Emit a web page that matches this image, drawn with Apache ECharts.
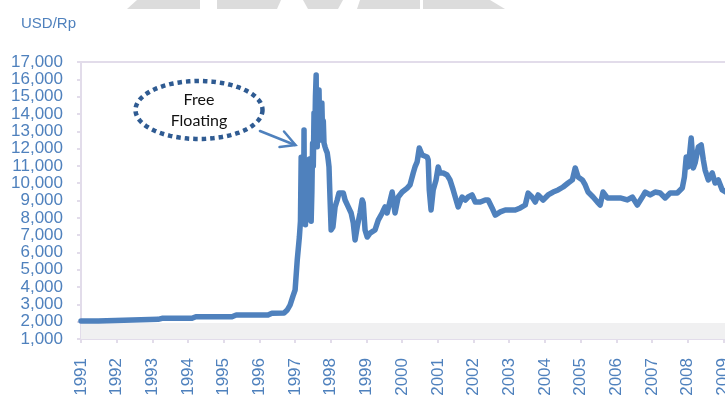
<!DOCTYPE html>
<html>
<head>
<meta charset="utf-8">
<script src="https://cdn.jsdelivr.net/npm/echarts@6/dist/echarts.min.js"></script>
<style>
  html, body { margin: 0; padding: 0; background: #ffffff; }
  #chart { width: 725px; height: 397px; }
</style>
</head>
<body>
<div id="chart"></div>
<script>
// Rupiah per US dollar, 1991 - early 2009 (time as decimal year)
const yearTicks = ['1991', '1992', '1993', '1994', '1995', '1996', '1997', '1998', '1999',
  '2000', '2001', '2002', '2003', '2004', '2005', '2006', '2007', '2008', '2009'];

const dates = [
  1991.00, 1991.48, 1991.53, 1993.16, 1993.27, 1994.11, 1994.22, 1995.23, 1995.35, 1996.24,
  1996.35, 1996.69, 1996.78, 1996.86, 1996.94,
  // 1997 crisis
  1997.00, 1997.06, 1997.12, 1997.15, 1997.17, 1997.18, 1997.20, 1997.21, 1997.23, 1997.24,
  1997.25, 1997.26, 1997.28, 1997.29, 1997.31, 1997.32, 1997.34, 1997.35, 1997.37, 1997.38,
  1997.40, 1997.41, 1997.43, 1997.45, 1997.47, 1997.49, 1997.51, 1997.53, 1997.55, 1997.57,
  1997.59, 1997.60, 1997.62, 1997.64, 1997.66, 1997.67, 1997.69, 1997.71, 1997.73, 1997.75,
  1997.77, 1997.79, 1997.81, 1997.84, 1997.87, 1997.90, 1997.93, 1997.95, 1997.98,
  // 1998 onwards
  1998.01, 1998.06, 1998.12, 1998.18, 1998.23, 1998.35, 1998.40,
  1998.49, 1998.57, 1998.63, 1998.68, 1998.74, 1998.82, 1998.88, 1998.91, 1998.96, 1999.02,
  1999.10, 1999.24, 1999.33, 1999.44, 1999.52, 1999.58, 1999.72, 1999.80, 1999.89, 2000.00,
  2000.14, 2000.22, 2000.31, 2000.36, 2000.42, 2000.48, 2000.56, 2000.70, 2000.73, 2000.76,
  2000.81, 2000.87, 2000.95, 2001.01, 2001.06, 2001.15, 2001.26, 2001.34, 2001.43, 2001.57,
  2001.68, 2001.77, 2001.85, 2001.96, 2002.05, 2002.19, 2002.33, 2002.41, 2002.52, 2002.61,
  2002.75, 2002.89, 2003.03, 2003.17, 2003.31, 2003.45, 2003.53, 2003.64, 2003.73, 2003.81,
  2003.95, 2004.09, 2004.23, 2004.37, 2004.51, 2004.65, 2004.77, 2004.85, 2004.93, 2005.05,
  2005.13, 2005.21, 2005.35, 2005.47, 2005.55, 2005.63, 2005.75, 2005.91, 2006.11, 2006.31,
  2006.45, 2006.59, 2006.73, 2006.81, 2006.95, 2007.09, 2007.23, 2007.37, 2007.51, 2007.71,
  2007.85, 2007.91, 2007.96, 2008.02, 2008.10, 2008.16, 2008.21, 2008.30, 2008.38, 2008.44,
  2008.49, 2008.58, 2008.69, 2008.77, 2008.86, 2008.97, 2009.11
];

const rates = [
  2040, 2040, 2138, 2138, 2196, 2196, 2288, 2288, 2386, 2386,
  2485, 2500, 2675, 2964, 3480,
  // 1997 crisis
  3830, 5560, 6900, 7800, 11500, 8200, 10800, 8000, 11300, 9000,
  13070, 8500, 11200, 7600, 11000, 8300, 10900, 7900, 10600, 8400,
  11400, 8000, 10300, 7800, 9500, 12300, 11000, 14060, 12500, 15000,
  16250, 13000, 12100, 14800, 12600, 15380, 13000, 14200, 12500, 14630,
  12800, 13600, 12320, 12090, 11900, 11750, 11300, 10940, 9030,
  // 1998 onwards
  7300, 7470, 8630, 9030, 9440, 9440, 9030,
  8630, 8280, 7700, 6720, 7470, 8280, 9030, 8860, 7300, 6890,
  7120, 7300, 7870, 8280, 8630, 8280, 9490, 8280, 9200, 9490,
  9720, 9900, 10590, 10940, 11230, 12030, 11630, 11510, 11340, 9610,
  8450, 9610, 10190, 10940, 10590, 10590, 10470, 10190, 9610, 8630,
  9200, 9030, 9200, 9320, 8910, 8910, 9030, 9030, 8570, 8160,
  8340, 8450, 8450, 8450, 8570, 8740, 9430, 9200, 8910, 9320,
  9030, 9320, 9490, 9610, 9780, 10010, 10190, 10880, 10360, 10190,
  9900, 9490, 9200, 8910, 8740, 9490, 9150, 9150, 9150, 9030,
  9200, 8740, 9200, 9490, 9320, 9490, 9430, 9150, 9430, 9430,
  9720, 10360, 11510, 10940, 12610, 10880, 11170, 12090, 12210, 11340,
  10760, 10190, 10590, 10010, 10190, 9610, 9440
];

const axisBlue = '#4f81bd';
const frameColor = '#e2dcea';

const chart = echarts.init(document.getElementById('chart'), null, { renderer: 'canvas' });

// dotted ellipse around the annotation text
const ellipsePts = [];
for (let i = 0; i < 120; i++) {
  const a = i / 120 * Math.PI * 2;
  ellipsePts.push([199 + 63.5 * Math.cos(a), 110 + 29 * Math.sin(a)]);
}

const banner = (pts) => ({ type: 'polygon', silent: true, shape: { points: pts }, style: { fill: '#dcdcdc' } });

chart.setOption({
  animation: false,
  backgroundColor: '#ffffff',
  title: {
    text: 'USD/Rp',
    left: 16,
    top: 11,
    textStyle: { color: axisBlue, fontSize: 15, fontWeight: 'normal', fontFamily: 'Liberation Sans' }
  },
  // plot area runs past the right edge of the page
  grid: {
    left: 81, top: 62, right: -34, bottom: 58,
    outerBoundsMode: 'none',
    containLabel: false,
    show: true, borderColor: frameColor, borderWidth: 2, backgroundColor: 'transparent'
  },
  xAxis: {
    type: 'value',
    min: 1991, max: 2010, interval: 1,
    axisLine: { show: true, lineStyle: { color: frameColor, width: 2 } },
    axisTick: { show: true, length: 4, lineStyle: { color: frameColor, width: 2 } },
    splitLine: { show: false },
    axisLabel: {
      rotate: 90, margin: 19,
      color: axisBlue, fontSize: 17, fontFamily: 'Liberation Sans',
      formatter: v => yearTicks[Math.round(v - 1991)] || ''
    }
  },
  yAxis: {
    type: 'value',
    min: 1000, max: 17000, interval: 1000,
    axisLine: { show: true, lineStyle: { color: frameColor, width: 2 } },
    axisTick: { show: true, length: 4, lineStyle: { color: frameColor, width: 2 } },
    splitLine: { show: false },
    axisLabel: {
      margin: 18,
      color: axisBlue, fontSize: 17, fontFamily: 'Liberation Sans',
      formatter: v => v.toLocaleString('en-US')
    }
  },
  series: [{
    type: 'line',
    data: dates.map((d, i) => [d, rates[i]]),
    showSymbol: false,
    clip: false,
    lineStyle: { color: '#4f81bd', width: 5.5, join: 'round', cap: 'round' },
    markArea: {
      silent: true,
      itemStyle: { color: '#f0f0f1' },
      data: [[{ yAxis: 1000 }, { yAxis: 1930 }]]
    },
    z: 3
  }],
  graphic: [
    // faint banner shapes along the top edge
    banner([[127, 9], [137, 0], [200, 0], [200, 9]]),
    banner([[217, 9], [217, 0], [281, 0], [277, 9]]),
    banner([[303, 0], [343, 0], [338, 9], [308, 9]]),
    banner([[357, 9], [360, 0], [420, 0], [420, 9]]),
    banner([[423, 9], [423, 0], [490, 0], [505, 9]]),
    // annotation
    {
      type: 'polygon', z: 10, silent: true,
      shape: { points: ellipsePts },
      style: { fill: 'none', stroke: '#2f5b92', lineWidth: 4.5, lineDash: [4.5, 4], lineCap: 'butt' }
    },
    {
      type: 'text', z: 11, silent: true,
      x: 199, y: 110,
      style: {
        text: 'Free\nFloating', fill: '#111111', fontSize: 16, fontFamily: 'Lato',
        align: 'center', verticalAlign: 'middle', lineHeight: 21
      }
    },
    {
      type: 'line', z: 10, silent: true,
      shape: { x1: 260, y1: 131, x2: 295, y2: 145 },
      style: { stroke: '#4f81bd', lineWidth: 2.5, lineCap: 'round' }
    },
    {
      type: 'polyline', z: 10, silent: true,
      shape: { points: [[284, 131.5], [295.5, 145], [279.5, 147]] },
      style: { stroke: '#4f81bd', lineWidth: 2.5, lineCap: 'round', lineJoin: 'miter', fill: 'none' }
    }
  ]
});
</script>
</body>
</html>
